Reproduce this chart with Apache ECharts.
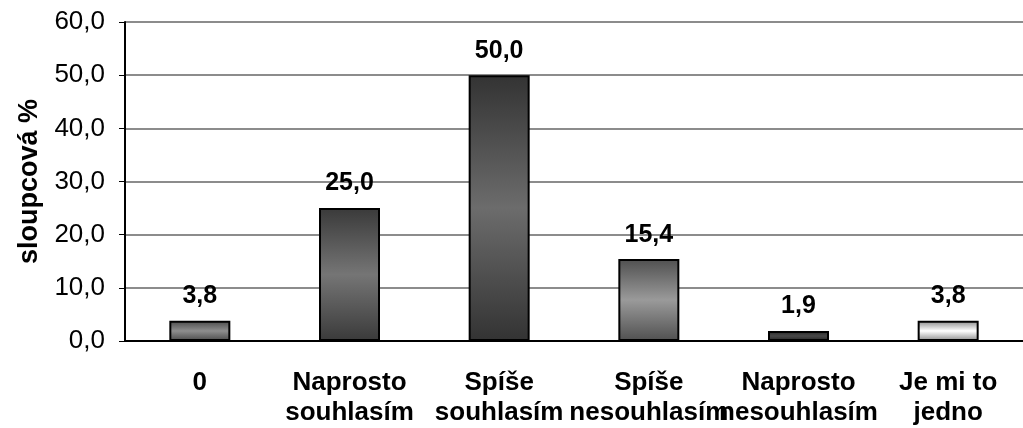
<!DOCTYPE html>
<html><head><meta charset="utf-8">
<script src="https://cdn.jsdelivr.net/npm/echarts@6/dist/echarts.min.js"></script>
<style>html,body{margin:0;padding:0;background:#fff}#c{width:1023px;height:428px}</style>
</head><body><div id="c"></div>
<script>
const categories = ["0", "Naprosto\nsouhlasím", "Spíše\nsouhlasím", "Spíše\nnesouhlasím", "Naprosto\nnesouhlasím", "Je mi to\njedno"];
const values = [3.8, 25.0, 50.0, 15.4, 1.9, 3.8];
const yTicks = [0, 10, 20, 30, 40, 50, 60];
const edgeColors = ["#4a4a4a", "#3a3a3a", "#333333", "#505050", "#262626", "#8a8a8a"];
const midColors = ["#8e8e8e", "#757575", "#6c6c6c", "#9a9a9a", "#484848", "#ffffff"];
const fmt = v => v.toFixed(1).replace('.', ',');
const F = '"Liberation Sans", Arial, sans-serif';
const chart = echarts.init(document.getElementById('c'), null, {renderer: 'canvas'});
chart.setOption({
  animation: false,
  grid: {left: 125, right: -12, top: 22, bottom: 87, containLabel: false},
  xAxis: {
    type: 'category', data: categories,
    axisLine: {lineStyle: {color: '#000', width: 2}},
    axisTick: {show: false},
    axisLabel: {fontFamily: F, fontSize: 26, fontWeight: 'bold', color: '#000', lineHeight: 30, margin: 27, interval: 0}
  },
  yAxis: {
    type: 'value', min: yTicks[0], max: yTicks[yTicks.length - 1], interval: 10,
    name: 'sloupcová %', nameLocation: 'middle', nameGap: 80, nameRotate: 90,
    nameTextStyle: {fontFamily: F, fontSize: 27, fontWeight: 'bold', color: '#000'},
    axisLine: {show: true, lineStyle: {color: '#000', width: 2}},
    axisTick: {show: true, length: 6, lineStyle: {color: '#000', width: 1}},
    axisLabel: {fontFamily: F, fontSize: 26, color: '#000', margin: 20, formatter: v => fmt(v)},
    splitLine: {lineStyle: {color: '#666', width: 1.5}}
  },
  series: [{
    type: 'bar', barWidth: 61,
    data: values.map((v, i) => ({
      value: v,
      itemStyle: {
        color: new echarts.graphic.LinearGradient(0, 0, 0, 1, [
          {offset: 0, color: edgeColors[i]},
          {offset: 0.5, color: midColors[i]},
          {offset: 1, color: edgeColors[i]}
        ]),
        borderColor: '#000', borderWidth: 2
      }
    })),
    label: {show: true, position: 'top', distance: 12, fontFamily: F, fontSize: 25, fontWeight: 'bold', color: '#000', formatter: p => fmt(p.value)}
  }]
});
</script></body></html>
